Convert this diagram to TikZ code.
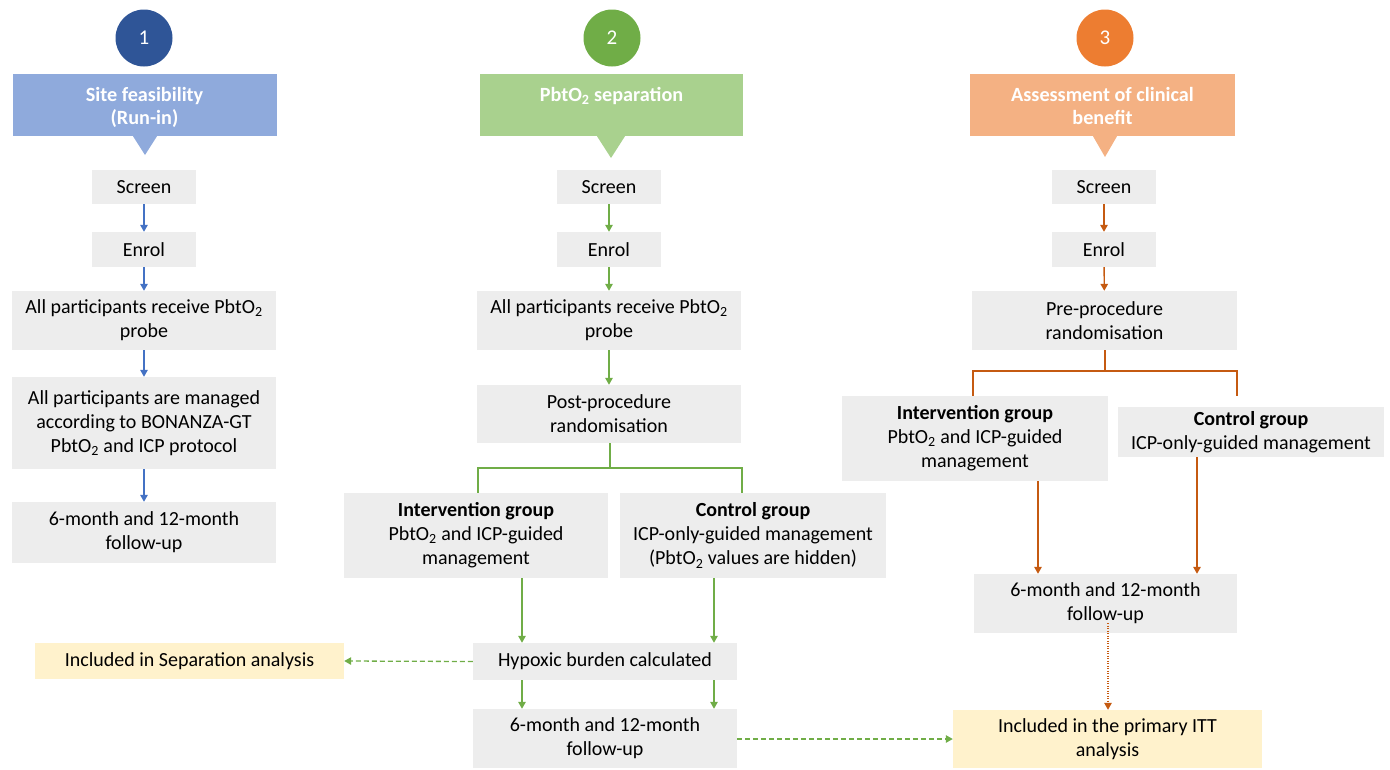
\documentclass[tikz,border=0pt]{standalone}
\usepackage{fontspec}
\setmainfont{Carlito}
\usetikzlibrary{arrows.meta}
\definecolor{bdark}{HTML}{2F5597}
\definecolor{blight}{HTML}{8FAADC}
\definecolor{bline}{HTML}{4472C4}
\definecolor{gdark}{HTML}{70AD47}
\definecolor{glight}{HTML}{A9D18E}
\definecolor{gline}{HTML}{70AD47}
\definecolor{odark}{HTML}{ED7D31}
\definecolor{olight}{HTML}{F4B183}
\definecolor{oline}{HTML}{C55A11}
\definecolor{graybox}{HTML}{EDEDED}
\definecolor{yelbox}{HTML}{FFF2CC}
\newcommand\ptwo{\textsubscript{2}}
\tikzset{
  box/.style={fill=graybox, inner sep=0pt, align=center, font=\fontsize{20}{24}\selectfont},
  ybox/.style={box, fill=yelbox},
  hdr/.style={inner sep=0pt, minimum width=264pt, minimum height=62pt},
  htext/.style={inner sep=0pt, align=center, text=white, anchor=north, font=\fontsize{20.2}{23.5}\selectfont\bfseries},
  num/.style={circle, inner sep=0pt, minimum size=57pt, text=white, font=\fontsize{21}{24}\selectfont},
  arr/.style={line width=1.4pt, -{Triangle[length=7pt,width=7.5pt]}},
  branch/.style={line width=1.1pt},
  dsh/.style={line width=1.3pt, dash pattern=on 5pt off 3pt, -{Triangle[length=7pt,width=7.5pt]}},
  dtd/.style={line width=1.3pt, dash pattern=on 1.3pt off 1.2pt, -{Triangle[length=7pt,width=7.5pt]}},
}
\begin{document}
\begin{tikzpicture}[x=1pt,y=-1pt]
\useasboundingbox (0,0) rectangle (1390,769);

% ---------------- Column 1 ----------------
\node[num, fill=bdark] (c1) at (144,38) {1};
\node[hdr, fill=blight] (h1) at (144.5,105) {};
\coordinate (t1) at (145,155);
\fill[blight] ([xshift=-12pt]h1.south -| t1) -- ([xshift=12pt]h1.south -| t1) -- (t1) -- cycle;
\node[htext] (h1t) at (144.5,87) {Site feasibility\\(Run-in)};

\node[box, minimum width=104pt, minimum height=34pt] (s1) at (144,187) {Screen};
\node[box, minimum width=104pt, minimum height=35pt] (e1) at (144,249.5) {Enrol};
\node[box, minimum width=264pt, minimum height=59pt] (p1) at (144,320.5) {All participants receive PbtO\ptwo\\probe};
\node[box, minimum width=264pt, minimum height=92pt] (m1) at (144,423) {All participants are managed\\according to BONANZA-GT\\PbtO\ptwo{} and ICP protocol};
\node[box, minimum width=264pt, minimum height=61pt] (f1) at (144,532.5) {6-month and 12-month\\follow-up};

\begin{scope}[bline]
\draw[arr] (s1) -- (e1);
\draw[arr] (e1) -- (p1);
\draw[arr] (p1) -- (m1);
\draw[arr] (m1) -- (f1);
\end{scope}

% ---------------- Column 2 ----------------
\node[num, fill=gdark] (c2) at (612,38) {2};
\node[hdr, fill=glight, minimum width=263pt] (h2) at (611.5,105) {};
\coordinate (t2) at (611,158);
\fill[glight] ([xshift=-14pt]h2.south -| t2) -- ([xshift=14pt]h2.south -| t2) -- (t2) -- cycle;
\node[htext] (h2t) at (611.5,87) {PbtO\ptwo{} separation};

\node[box, minimum width=104pt, minimum height=34pt] (s2) at (609,187) {Screen};
\node[box, minimum width=104pt, minimum height=35pt] (e2) at (609,249.5) {Enrol};
\node[box, minimum width=264pt, minimum height=59pt] (p2) at (609,320.5) {All participants receive PbtO\ptwo\\probe};
\node[box, minimum width=264pt, minimum height=58pt] (r2) at (609,414) {Post-procedure\\randomisation};
\node[box, minimum width=264pt, minimum height=85pt] (i2) at (476,535.5) {\textbf{Intervention group}\\PbtO\ptwo{} and ICP-guided\\management};
\node[box, minimum width=266pt, minimum height=85pt] (k2) at (753,535.5) {\textbf{Control group}\\ICP-only-guided management\\(PbtO\ptwo{} values are hidden)};
\node[box, minimum width=264pt, minimum height=37pt] (hy) at (605,661.5) {Hypoxic burden calculated};
\node[box, minimum width=264pt, minimum height=59pt] (f2) at (605,738.5) {6-month and 12-month\\follow-up};
\node[ybox, minimum width=309pt, minimum height=36pt] (sep) at (189.5,661) {Included in Separation analysis};

\coordinate (j2) at (610,468);
\coordinate (bl2) at (478,468);
\coordinate (br2) at (742,468);
\coordinate (a2l) at (522,600);
\coordinate (a2r) at (714,600);
\begin{scope}[gline]
\draw[arr] (s2) -- (e2);
\draw[arr] (e2) -- (p2);
\draw[arr] (p2) -- (r2);
\draw[branch] (r2.south -| j2) -- (j2);
\draw[branch] (bl2 |- i2.north) -- (bl2) -- (br2) -- (br2 |- k2.north);
\draw[arr] (i2.south -| a2l) -- (hy.north -| a2l);
\draw[arr] (k2.south -| a2r) -- (hy.north -| a2r);
\draw[arr] (hy.south -| a2l) -- (f2.north -| a2l);
\draw[arr] (hy.south -| a2r) -- (f2.north -| a2r);
\draw[dsh] (hy.west) -- (sep.east);
\end{scope}

% ---------------- Column 3 ----------------
\node[num, fill=odark] (c3) at (1105,38) {3};
\node[hdr, fill=olight, minimum width=265pt] (h3) at (1102.5,105) {};
\coordinate (t3) at (1105,157);
\fill[olight] ([xshift=-12pt]h3.south -| t3) -- ([xshift=12pt]h3.south -| t3) -- (t3) -- cycle;
\node[htext] (h3t) at (1102.5,87) {Assessment of clinical\\benefit};

\node[box, minimum width=104pt, minimum height=34pt] (s3) at (1104,187) {Screen};
\node[box, minimum width=104pt, minimum height=35pt] (e3) at (1104,249.5) {Enrol};
\node[box, minimum width=265pt, minimum height=59pt] (r3) at (1104.5,320.5) {Pre-procedure\\randomisation};
\node[box, minimum width=266pt, minimum height=85pt] (i3) at (975,438.5) {\textbf{Intervention group}\\PbtO\ptwo{} and ICP-guided\\management};
\node[box, minimum width=266pt, minimum height=50pt] (k3) at (1251,432) {\textbf{Control group}\\ICP-only-guided management};
\node[box, minimum width=263pt, minimum height=59pt] (f3) at (1105.5,603.5) {6-month and 12-month\\follow-up};
\node[ybox, minimum width=309pt, minimum height=58pt] (itt) at (1107.5,739) {Included in the primary ITT\\analysis};

\coordinate (j3) at (1105,371);
\coordinate (bl3) at (973,371);
\coordinate (br3) at (1237,371);
\coordinate (a3l) at (1038,500);
\coordinate (a3r) at (1197,500);
\coordinate (d3) at (1108,623);
\begin{scope}[oline]
\draw[arr] (s3) -- (e3);
\draw[arr] (e3) -- (r3);
\draw[branch] (r3.south -| j3) -- (j3);
\draw[branch] (bl3 |- i3.north) -- (bl3) -- (br3) -- (br3 |- i3.north);
\draw[arr] (i3.south -| a3l) -- (f3.north -| a3l);
\draw[arr] (k3.south -| a3r) -- (f3.north -| a3r);
\draw[dtd] (d3) -- (itt.north -| d3);
\end{scope}

\draw[gline, dsh] (f2.east |- itt.west) -- (itt.west);
\end{tikzpicture}
\end{document}
